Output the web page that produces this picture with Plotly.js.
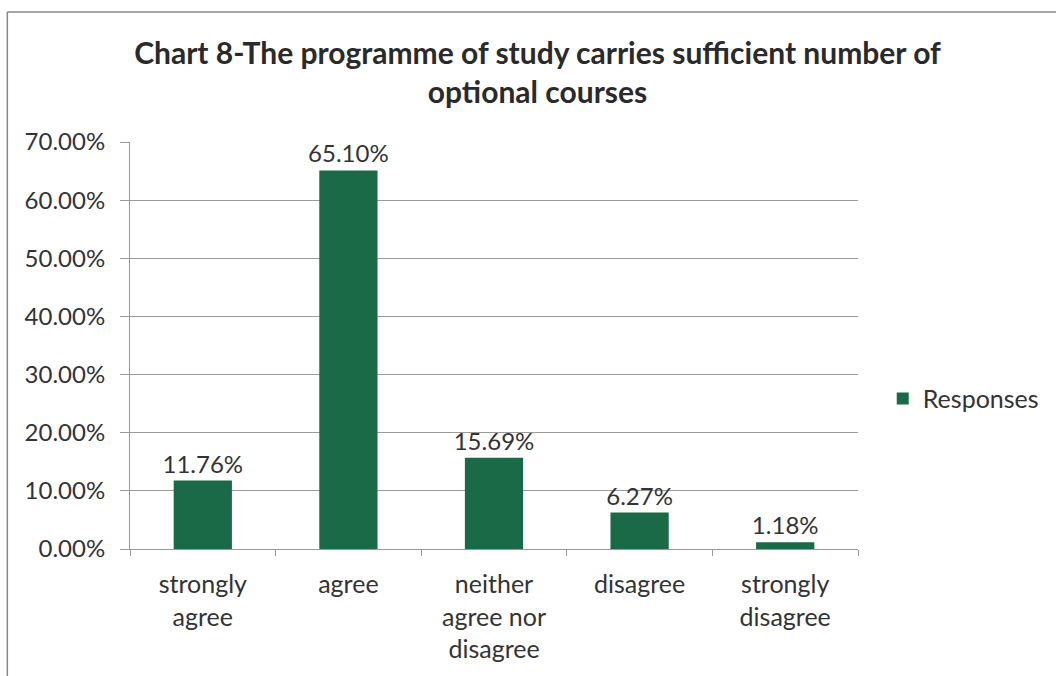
<!DOCTYPE html>
<html>
<head>
<meta charset="utf-8">
<script src="https://cdn.plot.ly/plotly-3.0.1.min.js"></script>
<style>html,body{margin:0;padding:0;background:#fff;}#chart{width:1056px;height:676px;}</style>
</head>
<body>
<div id="chart"></div>
<script>
const categories = ["strongly<br>agree", "agree", "neither<br>agree nor<br>disagree", "disagree", "strongly<br>disagree"];
const values = [0.1176, 0.6510, 0.1569, 0.0627, 0.0118];
const valueLabels = ["11.76%", "65.10%", "15.69%", "6.27%", "1.18%"];
const seriesName = "Responses";
const titleText = "Chart 8-The programme of study carries sufficient number of<br>optional courses";

const FONT = "Lato, 'Open Sans', sans-serif";
const trace = {
  type: "bar",
  x: categories,
  y: values,
  name: seriesName,
  text: valueLabels,
  textposition: "outside",
  constraintext: "none",
  cliponaxis: false,
  textfont: {family: FONT, size: 24, color: "#333"},
  marker: {color: "#1a6a47"},
  showlegend: true
};
const layout = {
  width: 1056, height: 676,
  margin: {l: 130, r: 196, t: 142, b: 127},
  paper_bgcolor: "#fff", plot_bgcolor: "#fff",
  bargap: 0.6,
  font: {family: FONT, size: 24, color: "#333"},
  title: {text: titleText, x: 0.509, xref: "container", xanchor: "center", y: 0.906, yref: "container", yanchor: "top",
          font: {family: FONT, size: 30, color: "#2a2a2a", weight: "bold"}},
  xaxis: {type: "category", tickson: "boundaries", ticks: "outside", ticklen: 6, tickcolor: "#999",
          showline: true, linecolor: "#999", showgrid: false, tickfont: {family: FONT, size: 25, color: "#333"}, ticklabelstandoff: 13},
  yaxis: {range: [0, 0.7], dtick: 0.1, tickformat: ".2%", showgrid: true, gridcolor: "#9a9a9a", gridwidth: 1,
          showline: true, linecolor: "#999", ticks: "outside", ticklen: 9, tickcolor: "#999", zeroline: false,
          tickfont: {family: FONT, size: 24, color: "#333"}, ticklabelstandoff: 10},
  legend: {x: 1.034, xanchor: "left", y: 0.369, yanchor: "middle", font: {family: FONT, size: 25, color: "#333"}, itemwidth: 30},
  shapes: [
    {type: "line", xref: "paper", yref: "paper", x0: -0.1685, x1: 1.3, y0: 1.3194, y1: 1.3194, line: {color: "#888", width: 1.5}},
    {type: "line", xref: "paper", yref: "paper", x0: -0.1685, x1: -0.1685, y0: 1.3194, y1: -0.32, line: {color: "#888", width: 1.5}}
  ]
};
Plotly.newPlot("chart", [trace], layout, {displayModeBar: false, staticPlot: true});
</script>
</body>
</html>
